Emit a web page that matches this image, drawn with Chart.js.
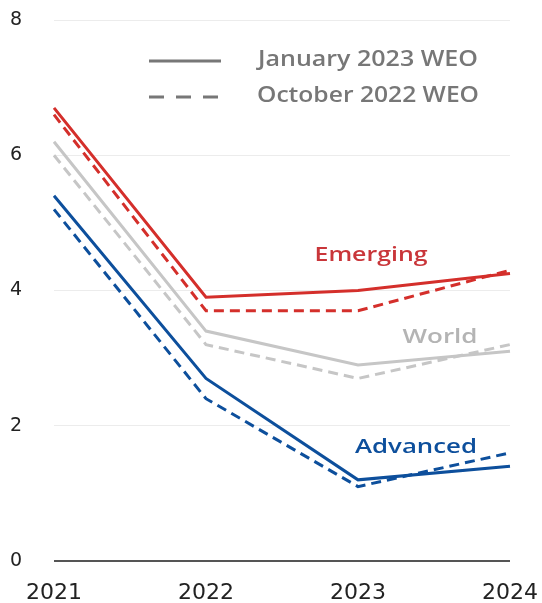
<!DOCTYPE html>
<html>
<head>
<meta charset="utf-8">
<script src="https://cdn.jsdelivr.net/npm/chart.js@4/dist/chart.umd.min.js"></script>
<style>
  html, body { margin: 0; padding: 0; background: #fff; }
  #wrap { width: 542px; height: 603px; }
</style>
</head>
<body>
<div id="wrap"><canvas id="myChart"></canvas></div>
<script>
const years = ["2021", "2022", "2023", "2024"];

// January 2023 WEO (solid)
const emergingJan = [6.7, 3.9, 4.0, 4.25];
const worldJan = [6.2, 3.4, 2.9, 3.1];
const advancedJan = [5.4, 2.7, 1.2, 1.4];

// October 2022 WEO (dashed)
const emergingOct = [6.6, 3.7, 3.7, 4.3];
const worldOct = [6.0, 3.2, 2.7, 3.2];
const advancedOct = [5.2, 2.4, 1.1, 1.6];

const yTicks = [0, 2, 4, 6, 8];

const RED = "#d42f2b";
const GREY = "#c6c6c6";
const BLUE = "#0d4f9c";
const FONT = "'Open Sans', 'Noto Sans', sans-serif";
const TICK_FONT = "'DejaVu Sans', sans-serif";

function line(data, color, dashed) {
  return {
    data: data,
    borderColor: color,
    borderWidth: 3,
    borderDash: dashed ? [10, 6] : [],
    pointRadius: 0,
    tension: 0,
    fill: false,
  };
}

// the reference lettering is wider than our fonts, stretch it to width w
function fitText(c, text, x, y, w, align) {
  const sx = w / c.measureText(text).width;
  const left = align === "center" ? x - w / 2 : x;
  c.save();
  c.translate(left, y);
  c.scale(sx, 1);
  c.textAlign = "left";
  c.fillText(text, 0, 0);
  c.restore();
}

// legend and series labels drawn inside the plot area
const labelPlugin = {
  id: "labels",
  afterDatasetsDraw: (chart) => {
    const { ctx } = chart;
    ctx.save();
    ctx.lineWidth = 3;
    ctx.strokeStyle = "#777";
    ctx.beginPath();
    ctx.moveTo(149, 61);
    ctx.lineTo(221, 61);
    ctx.stroke();
    ctx.setLineDash([15, 12]);
    ctx.beginPath();
    ctx.moveTo(149, 97);
    ctx.lineTo(220, 97);
    ctx.stroke();
    ctx.setLineDash([]);

    ctx.textBaseline = "alphabetic";
    ctx.fillStyle = "#777";
    ctx.font = "600 21px " + FONT;
    fitText(ctx, "January 2023 WEO", 258, 66, 220, "left");
    fitText(ctx, "October 2022 WEO", 257, 102, 222, "left");

    ctx.font = "600 20px " + FONT;
    ctx.fillStyle = "#c9363a";
    fitText(ctx, "Emerging", 371, 261, 113, "center");
    ctx.fillStyle = "#b4b4b4";
    fitText(ctx, "World", 440, 343, 75, "center");
    ctx.fillStyle = BLUE;
    fitText(ctx, "Advanced", 416, 453, 122, "center");
    ctx.restore();
  },
};

const ctx = document.getElementById("myChart").getContext("2d");
const myChart = new Chart(ctx, {
  type: "line",
  data: {
    labels: years,
    datasets: [
      line(emergingOct, RED, true),
      line(emergingJan, RED, false),
      line(worldOct, GREY, true),
      line(worldJan, GREY, false),
      line(advancedOct, BLUE, true),
      line(advancedJan, BLUE, false),
    ],
  },
  options: {
    responsive: true,
    maintainAspectRatio: false,
    animation: false,
    layout: { padding: { top: 20, right: 32, left: 10, bottom: 0 } },
    plugins: {
      legend: { display: false },
      tooltip: { enabled: false },
    },
    scales: {
      x: {
        offset: false,
        grid: { display: false, drawTicks: false },
        border: { display: false },
        ticks: {
          color: "#222",
          font: { family: TICK_FONT, size: 22 },
          padding: 19,
          maxRotation: 0,
        },
        afterFit: (axis) => {
          axis.height = 42;
          axis.paddingLeft = 0;
          axis.paddingRight = 0;
        },
      },
      y: {
        min: 0,
        max: 8,
        afterBuildTicks: (axis) => { axis.ticks = yTicks.map((v) => ({ value: v })); },
        grid: {
          drawTicks: false,
          color: (c) => (c.tick && c.tick.value === 0 ? "#555" : "#ececec"),
          lineWidth: (c) => (c.tick && c.tick.value === 0 ? 2 : 1),
        },
        border: { display: false },
        ticks: {
          color: "#222",
          font: { family: TICK_FONT, size: 19 },
          crossAlign: "far",
          padding: 0,
        },
        afterFit: (axis) => {
          axis.width = 44;
          axis.paddingTop = 0;
          axis.paddingBottom = 0;
        },
      },
    },
  },
  plugins: [labelPlugin],
});
</script>
</body>
</html>
